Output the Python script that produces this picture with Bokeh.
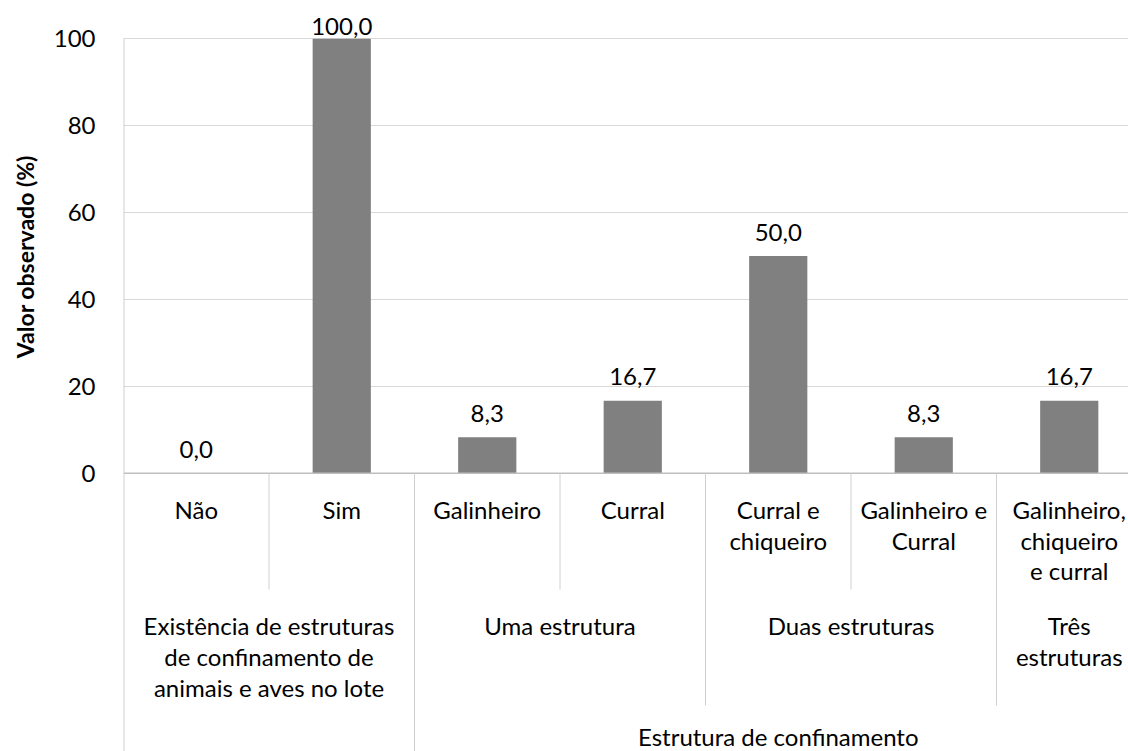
import numpy as np
from bokeh.plotting import figure
from bokeh.models import Range1d, FixedTicker, Title
from bokeh.core.properties import value
from bokeh.embed import file_html
from bokeh.resources import INLINE

# ---------------- data ----------------
categories = ["Não", "Sim", "Galinheiro", "Curral", "Curral e\nchiqueiro",
              "Galinheiro e\nCurral", "Galinheiro,\nchiqueiro\ne curral"]
values = [0.0, 100.0, 8.3, 16.7, 50.0, 8.3, 16.7]
groups = ["Existência de estruturas\nde confinamento de\nanimais e aves no lote",
          "Uma estrutura", "Duas estruturas", "Três\nestruturas"]
group_sizes = [2, 2, 2, 1]
super_groups = ["Estrutura de confinamento"]
super_first_group = [1]          # index of first group covered
super_group_counts = [3]         # number of groups covered
y_ticks = [0, 20, 40, 60, 80, 100]
y_title = "Valor observado (%)"

# ---------------- layout ----------------
W, H = 1128, 751
LEFT = 123
CAT_PX = 145.5
ZERO_Y = 472.7     # canvas px of value 0
UNIT_PX = 4.344    # px per percent
FONT = "Lato"
FS = "24px"
TXT = "#000000"

x_end = (W - LEFT) / CAT_PX
y_end = ZERO_Y / UNIT_PX
y_start = -(H - ZERO_Y) / UNIT_PX


def dy(canvas_y):
    return (ZERO_Y - canvas_y) / UNIT_PX


p = figure(width=W, height=H, x_range=Range1d(0, x_end), y_range=Range1d(y_start, y_end),
           output_backend="svg", toolbar_location=None, x_axis_location=None,
           min_border_left=LEFT, min_border_right=0, min_border_top=0, min_border_bottom=0)
p.outline_line_color = None
p.xgrid.grid_line_color = None
p.ygrid.grid_line_color = "#d9d9d9"
p.ygrid.grid_line_width = 1
p.yaxis.ticker = FixedTicker(ticks=y_ticks)
p.yaxis.axis_line_color = None
p.yaxis.major_tick_line_color = None
p.yaxis.minor_tick_line_color = None
p.yaxis.major_tick_out = 0
p.yaxis.major_tick_in = 0
p.yaxis.major_label_standoff = 28
p.yaxis.major_label_text_font = FONT
p.yaxis.major_label_text_font_size = FS
p.yaxis.major_label_text_color = TXT
p.background_fill_color = "white"
p.border_fill_color = "white"

# y title: a side title, started at the bottom of the 0..100 span and centred on it
p.add_layout(Title(text=y_title, align="left", vertical_align="top",
                   offset=H - ZERO_Y + 115, standoff=20, text_font=FONT,
                   text_font_size="23px", text_font_style="bold", text_color=TXT), "left")

n = len(categories)
centers = np.arange(n) + 0.5

# bars
p.vbar(x=centers, top=values, bottom=0, width=0.4, fill_color="#808080", line_color=None)

# value labels
lab_y = [min(v + 24 / UNIT_PX, dy(26)) for v in values]
lab_txt = [f"{v:.1f}".replace(".", ",") for v in values]
p.text(x=centers, y=lab_y, text=lab_txt, text_align="center", text_baseline="middle",
       text_font=value(FONT), text_font_size=FS, text_color=TXT)

# x axis line (zero)
p.segment(x0=[0], y0=[0], x1=[x_end], y1=[0], line_color="#bfbfbf", line_width=1.5)

# group boundaries
g_edges = np.concatenate([[0], np.cumsum(group_sizes)])
s_edges = {0}
for f, c in zip(super_first_group, super_group_counts):
    s_edges.add(int(g_edges[f]))
    s_edges.add(int(g_edges[f + c]))
g_set = set(int(e) for e in g_edges)

L1_END, L2_END = 589, 705
sx0, sy0, sx1, sy1 = [], [], [], []
for b in range(1, n + 1):
    if b in s_edges:
        yb = y_start
    elif b in g_set:
        yb = dy(L2_END)
    else:
        yb = dy(L1_END)
    sx0.append(b); sx1.append(b); sy0.append(0); sy1.append(yb)
p.segment(x0=sx0, y0=sy0, x1=sx1, y1=sy1, line_color="#d0d0d0", line_width=1)
# left edge line (drawn wider since half is clipped by the frame)
p.segment(x0=[0], y0=[100], x1=[0], y1=[y_start], line_color="#d0d0d0", line_width=2)

# text lines
tx, ty, tt = [], [], []
L1_Y, L1_STEP = 509, 30.5
for i, c in enumerate(categories):
    for k, line in enumerate(c.split("\n")):
        tx.append(i + 0.5); ty.append(dy(L1_Y + k * L1_STEP)); tt.append(line)
L2_Y, L2_STEP = 625, 31
for gi, g in enumerate(groups):
    cx = (g_edges[gi] + g_edges[gi + 1]) / 2
    for k, line in enumerate(g.split("\n")):
        tx.append(cx); ty.append(dy(L2_Y + k * L2_STEP)); tt.append(line)
L3_Y = 736
for s, f, c in zip(super_groups, super_first_group, super_group_counts):
    cx = (g_edges[f] + g_edges[f + c]) / 2
    tx.append(cx); ty.append(dy(L3_Y)); tt.append(s)
p.text(x=tx, y=ty, text=tt, text_align="center", text_baseline="middle",
       text_font=value(FONT), text_font_size=FS, text_color=TXT)

open("out.html", "w").write(file_html(p, INLINE))
